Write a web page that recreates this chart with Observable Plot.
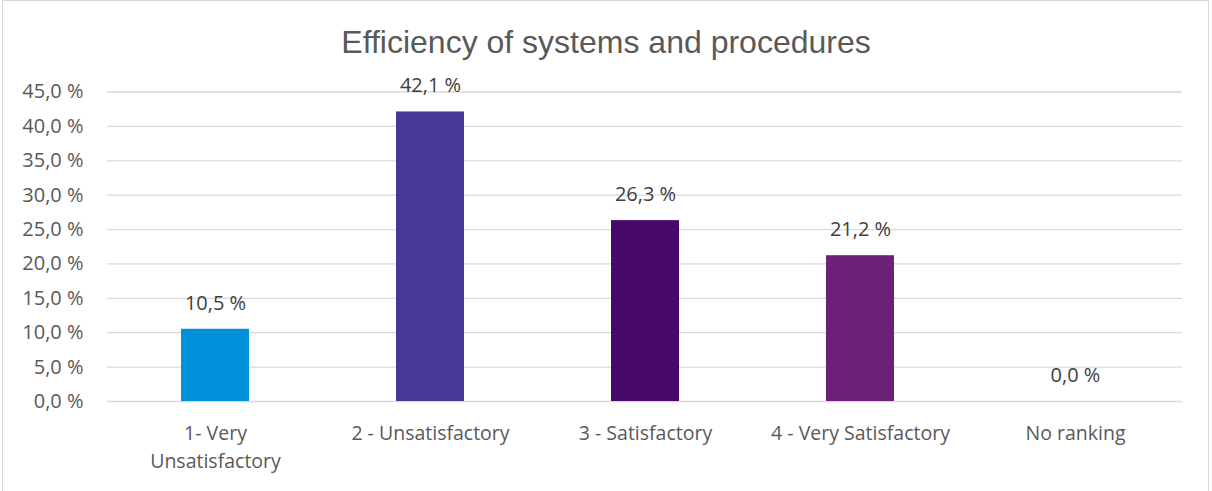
<!DOCTYPE html>
<html>
<head>
<meta charset="utf-8">
<script src="https://cdn.jsdelivr.net/npm/d3@7"></script>
<script src="https://cdn.jsdelivr.net/npm/@observablehq/plot@0.6"></script>
<style>
  html, body { margin: 0; padding: 0; background: #fff; }
  #wrap { position: relative; width: 1212px; height: 491px; overflow: hidden; }
  #frame { position: absolute; left: 2px; top: 0px; width: 1207px; height: 520px; border: 1.5px solid #d9d9d9; box-sizing: border-box; pointer-events: none; }
  #title { height: 60px; line-height: 60px; padding-top: 12px; box-sizing: border-box; text-align: center; font-family: "Liberation Sans", Arial, sans-serif; font-size: 32px; color: #595959; white-space: nowrap; }
  #chart svg { display: block; }
</style>
</head>
<body>
<div id="wrap">
  <div id="title">Efficiency of systems and procedures</div>
  <div id="chart"></div>
  <div id="frame"></div>
</div>
<script>
const categories = ["1- Very Unsatisfactory", "2 - Unsatisfactory", "3 - Satisfactory", "4 - Very Satisfactory", "No ranking"];
const values = [10.5, 42.1, 26.3, 21.2, 0.0];
const colors = ["#0091DA", "#483698", "#470A68", "#6D2077", "#00A3A1"];
const yTicks = [0, 5, 10, 15, 20, 25, 30, 35, 40, 45];

const data = categories.map((c, i) => ({category: c, value: values[i], color: colors[i]}));
const pct = v => v.toFixed(1).replace(".", ",") + " %";
const wrapLabel = c => c === "1- Very Unsatisfactory" ? "1- Very\nUnsatisfactory" : c;

const chart = Plot.plot({
  width: 1212,
  height: 431,
  marginTop: 31.5,
  marginBottom: 90,
  marginLeft: 107,
  marginRight: 30,
  style: {fontFamily: "'Open Sans', sans-serif", fontSize: "20px", background: "transparent"},
  x: {domain: categories, paddingInner: 0.684, paddingOuter: 0.342, label: null},
  y: {domain: [0, 45], label: null},
  marks: [
    Plot.gridY(yTicks, {stroke: "#d9d9d9", strokeOpacity: 1, strokeWidth: 1.3}),
    Plot.axisY(yTicks, {tickSize: 0, tickPadding: 24, tickFormat: pct, fill: "#595959", fontSize: 20, label: null}),
    Plot.axisX({tickSize: 0, tickPadding: 18, tickFormat: wrapLabel, fill: "#595959", fontSize: 19.5, lineHeight: 1.45, label: null}),
    Plot.barY(data, {x: "category", y: "value", fill: d => d.color}),
    Plot.text(data, {x: "category", y: "value", text: d => pct(d.value), dy: -26, fill: "#404040", fontSize: 20})
  ]
});
document.getElementById("chart").appendChild(chart);
</script>
</body>
</html>
